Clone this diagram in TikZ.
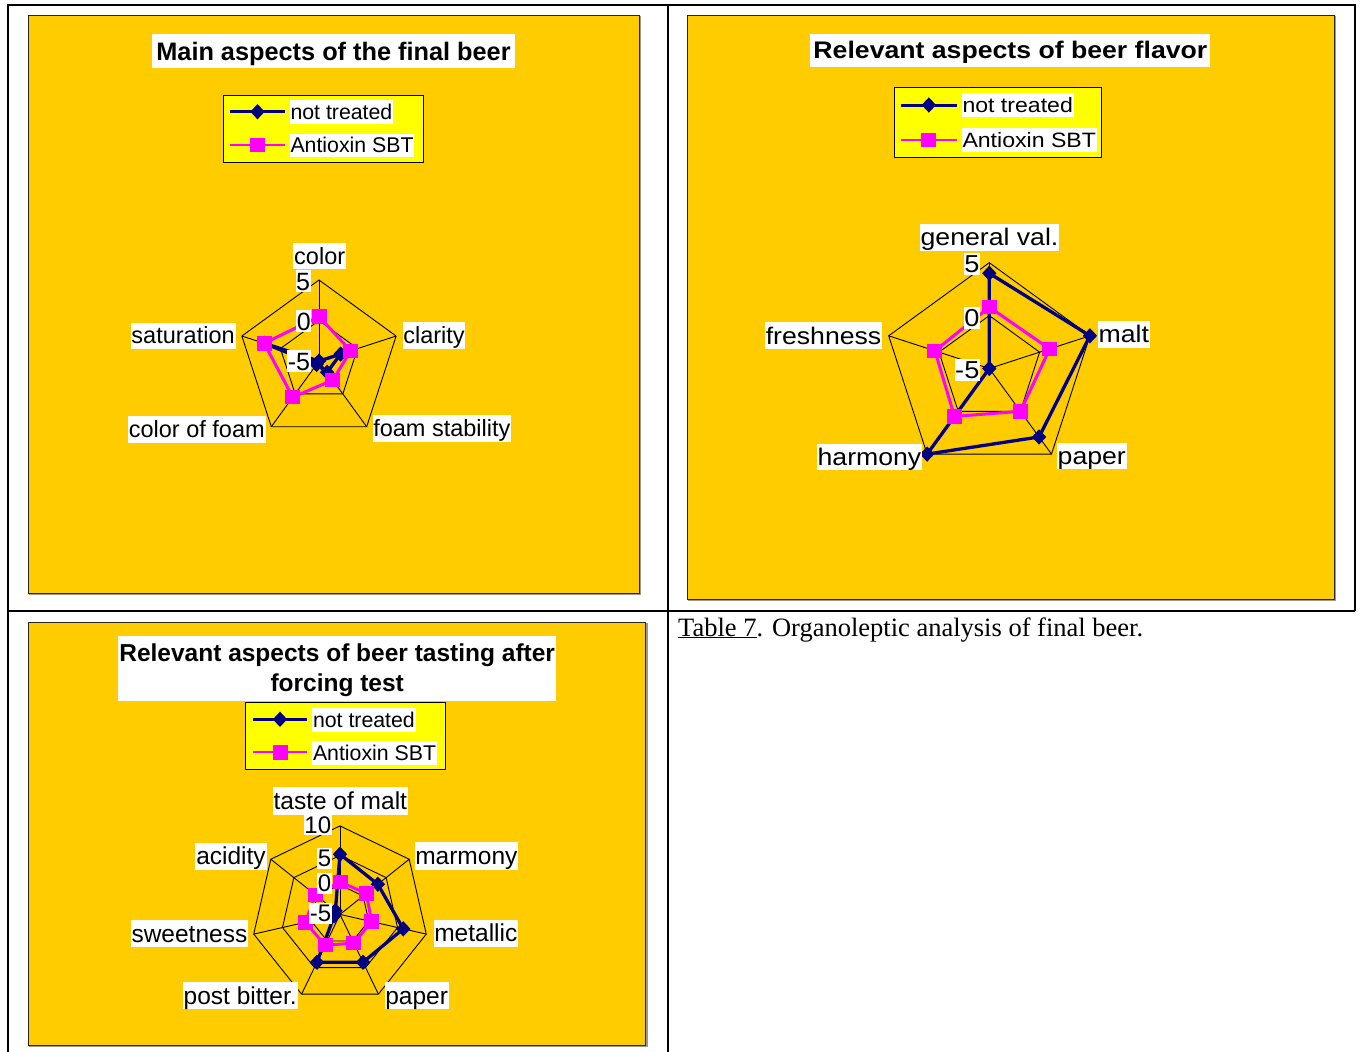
\documentclass[tikz,border=0pt]{standalone}
\usepackage{fontspec}
\usepackage{graphicx}
\setmainfont{Liberation Sans}
\newfontfamily\capfont{Liberation Serif}
\usetikzlibrary{calc,shapes.geometric}
\definecolor{chartbg}{HTML}{FFCC00}
\definecolor{legbg}{HTML}{FFFF00}
\definecolor{navyc}{HTML}{000080}
\definecolor{pinkc}{HTML}{FF00FF}
\newcommand{\myhs}[1]{\scalebox{1.11}[1]{#1}}
\tikzset{
 tableline/.style={line width=2pt,black},
 chartbox/.style={fill=chartbg,draw=black!85,line width=1pt},
 shadowbox/.style={draw=black!40,line width=1.2pt},
 legbox/.style={fill=legbg,draw=black,line width=0.9pt},
 gridline/.style={black,line width=0.9pt},
 ntline/.style={navyc,line width=3.3pt,line join=round},
 axline/.style={pinkc,line width=3pt,line join=round},
 ntleg/.style={navyc,line width=3pt},
 axleg/.style={pinkc,line width=2.2pt},
 dmark/.style={shape=diamond,fill=navyc,inner sep=0pt,minimum width=14.5pt,minimum height=15.5pt},
 smark/.style={shape=rectangle,fill=pinkc,inner sep=0pt,minimum width=15pt,minimum height=14.5pt},
 wbox/.style={fill=white,inner ysep=0pt,inner xsep=0.8pt},
 lab1/.style={wbox,font=\fontsize{23.5}{23.5}\selectfont,text height=21.3pt,text depth=5pt},
 lab2/.style={wbox,font=\fontsize{24}{24}\selectfont,text height=21.7pt,text depth=5.1pt},
 lab3/.style={wbox,font=\fontsize{24.5}{24.5}\selectfont,text height=22.2pt,text depth=5.2pt},
 tick1/.style={fill=white,inner xsep=0.4pt,inner ysep=2pt,font=\fontsize{25}{25}\selectfont,text height=18pt,text depth=0pt},
 tick2/.style={fill=white,inner xsep=0.4pt,inner ysep=2pt,font=\fontsize{24.5}{24.5}\selectfont,text height=17.7pt,text depth=0pt},
 tick3/.style={fill=white,inner xsep=0.4pt,inner ysep=1.7pt,font=\fontsize{24}{24}\selectfont,text height=17.3pt,text depth=0pt},
 leg1/.style={wbox,font=\fontsize{21.3}{21.3}\selectfont,text height=19.3pt,text depth=4.5pt},
 leg2/.style={wbox,font=\fontsize{20.8}{20.8}\selectfont,text height=18.8pt,text depth=4.4pt},
 leg3/.style={wbox,font=\fontsize{21.3}{21.3}\selectfont,text height=19.3pt,text depth=4.5pt},
}
\begin{document}
\begin{tikzpicture}[x=1pt,y=-1pt]
\useasboundingbox (0,0) rectangle (1361,1052);

% ---------------- table rules ----------------
\draw[tableline] (8,1053) -- (8,5) -- (1355,5) -- (1355,611);
\draw[tableline] (8,611) -- (1355,611);
\draw[tableline] (668,5) -- (668,1053);

% ---------------- chart boxes ----------------
\draw[shadowbox] (29.5,17) rectangle (640.2,594.5);
\draw[chartbox] (28.3,15.7) rectangle (639,593.3);
\draw[shadowbox] (688.5,16.7) rectangle (1335.5,600.5);
\draw[chartbox] (687.3,15.5) rectangle (1334.3,599.3);
\draw[shadowbox] (29.5,623.2) rectangle (646.9,1046.2);
\draw[chartbox] (28.3,622) rectangle (645.7,1045);

% ================= CHART 1 =================
\coordinate (c1) at (319,361.1);
\foreach \k in {0,...,4}{
  \coordinate (g1o\k) at ($(c1)+(-90+72*\k:81.1)$);
  \coordinate (g1i\k) at ($(c1)+(-90+72*\k:40.55)$);
}
\draw[gridline] (g1o0)--(g1o1)--(g1o2)--(g1o3)--(g1o4)--cycle;
\draw[gridline] (g1i0)--(g1i1)--(g1i2)--(g1i3)--(g1i4)--cycle;
\foreach \k in {0,...,4} \draw[gridline] (c1)--(g1o\k);
\foreach \k/\v in {0/-5,1/-2.2,2/-3.3,3/-4.5,4/2.1}
  \coordinate (d1n\k) at ($(c1)+(-90+72*\k:{(\v+5)*8.11})$);
\foreach \k/\v in {0/0.5,1/-0.9,2/-2.1,3/0.5,4/2.1}
  \coordinate (d1p\k) at ($(c1)+(-90+72*\k:{(\v+5)*8.11})$);
\draw[ntline] (d1n0)--(d1n1)--(d1n2)--(d1n3)--(d1n4)--cycle;
\foreach \k in {0,...,4} \node[dmark] (m1n\k) at (d1n\k) {};
\draw[axline] (d1p0)--(d1p1)--(d1p2)--(d1p3)--(d1p4)--cycle;
\foreach \k in {0,...,4} \node[smark] (m1p\k) at (d1p\k) {};
\node[tick1,anchor=east] (k1a) at (310.7,281) {5};
\node[tick1,anchor=east] (k1b) at (311.3,321) {0};
\node[tick1,anchor=east] (k1c) at (310.7,361) {-5};
\node[lab1] (a1a) at (319.7,256.3) {color};
\node[lab1,anchor=west] (a1b) at (402.3,335.5) {clarity};
\node[lab1,anchor=west] (a1c) at (372.3,428.5) {foam stability};
\node[lab1,anchor=east] (a1d) at (265.7,429.5) {color of foam};
\node[lab1,anchor=east] (a1e) at (235.7,335.8) {saturation};
\node[fill=white,anchor=north,inner xsep=4pt,inner ysep=3pt,font=\bfseries\fontsize{25.3}{25.3}\selectfont,text height=22.8pt,text depth=5.3pt] (t1) at (333.5,34) {Main aspects of the final beer};
\draw[legbox] (223.5,95.7) rectangle (423,162);
\coordinate (l1a) at (230,111.7); \coordinate (l1b) at (285,111.7);
\coordinate (l1c) at (230,145); \coordinate (l1d) at (285,145);
\draw[ntleg] (l1a) -- (l1b);
\node[dmark] (lm1a) at ($(l1a)!0.5!(l1b)$) {};
\draw[axleg] (l1c) -- (l1d);
\node[smark] (lm1b) at ($(l1c)!0.5!(l1d)$) {};
\node[leg1,anchor=west] (lt1a) at (289.5,112) {not treated};
\node[leg1,anchor=west] (lt1b) at (289.5,145.5) {Antioxin SBT};

% ================= CHART 2 =================
\coordinate (c2) at (989.3,368.5);
\foreach \k in {0,...,4}{
  \coordinate (g2o\k) at ($(c2)+(-90+72*\k:105.8)$);
  \coordinate (g2i\k) at ($(c2)+(-90+72*\k:52.9)$);
}
\draw[gridline] (g2o0)--(g2o1)--(g2o2)--(g2o3)--(g2o4)--cycle;
\draw[gridline] (g2i0)--(g2i1)--(g2i2)--(g2i3)--(g2i4)--cycle;
\foreach \k in {0,...,4} \draw[gridline] (c2)--(g2o\k);
\foreach \k/\v in {0/4,1/5,2/3,3/5,4/-5}
  \coordinate (d2n\k) at ($(c2)+(-90+72*\k:{(\v+5)*10.58})$);
\foreach \k/\v in {0/0.8,1/1,2/0,3/0.6,4/0.4}
  \coordinate (d2p\k) at ($(c2)+(-90+72*\k:{(\v+5)*10.58})$);
\draw[ntline] (d2n0)--(d2n1)--(d2n2)--(d2n3)--(d2n4)--cycle;
\foreach \k in {0,...,4} \node[dmark] (m2n\k) at (d2n\k) {};
\draw[axline] (d2p0)--(d2p1)--(d2p2)--(d2p3)--(d2p4)--cycle;
\foreach \k in {0,...,4} \node[smark] (m2p\k) at (d2p\k) {};
\node[tick2,anchor=east] (k2a) at (980,264) {\myhs{5}};
\node[tick2,anchor=east] (k2b) at (980,318) {\myhs{0}};
\node[tick2,anchor=east] (k2c) at (980,370) {\myhs{-5}};
\node[lab2] (a2a) at (989.5,237.5) {\myhs{general val.}};
\node[lab2,anchor=west] (a2b) at (1097.7,334.5) {\myhs{malt}};
\node[lab2,anchor=west] (a2c) at (1056.7,456) {\myhs{paper}};
\node[lab2,anchor=east] (a2d) at (922.3,457) {\myhs{harmony}};
\node[lab2,anchor=east] (a2e) at (882.3,335.8) {\myhs{freshness}};
\node[fill=white,anchor=north,inner xsep=3pt,inner ysep=3.5pt,font=\bfseries\fontsize{24}{24}\selectfont,text height=21.7pt,text depth=5.1pt] (t2) at (1010.4,33.3) {\myhs{Relevant aspects of beer flavor}};
\draw[legbox] (894.3,87.3) rectangle (1101.7,157.3);
\coordinate (l2a) at (901,105); \coordinate (l2b) at (956.7,105);
\coordinate (l2c) at (901,140); \coordinate (l2d) at (956.7,140);
\draw[ntleg] (l2a) -- (l2b);
\node[dmark] (lm2a) at ($(l2a)!0.5!(l2b)$) {};
\draw[axleg] (l2c) -- (l2d);
\node[smark] (lm2b) at ($(l2c)!0.5!(l2d)$) {};
\node[leg2,anchor=west] (lt2a) at (961.5,105) {\myhs{not treated}};
\node[leg2,anchor=west] (lt2b) at (961.5,140) {\myhs{Antioxin SBT}};

% ================= CHART 3 =================
\coordinate (c3) at (340,914.4);
\foreach \k in {0,...,6}{
  \coordinate (g3o\k) at ($(c3)+(-90+51.42857*\k:88.5)$);
  \coordinate (g3m\k) at ($(c3)+(-90+51.42857*\k:59)$);
  \coordinate (g3i\k) at ($(c3)+(-90+51.42857*\k:29.5)$);
}
\draw[gridline] (g3o0)--(g3o1)--(g3o2)--(g3o3)--(g3o4)--(g3o5)--(g3o6)--cycle;
\draw[gridline] (g3m0)--(g3m1)--(g3m2)--(g3m3)--(g3m4)--(g3m5)--(g3m6)--cycle;
\draw[gridline] (g3i0)--(g3i1)--(g3i2)--(g3i3)--(g3i4)--(g3i5)--(g3i6)--cycle;
\foreach \k in {0,...,6} \draw[gridline] (c3)--(g3o\k);
\foreach \k/\v in {0/5.2,1/3.2,2/6,3/4,4/4,5/-4,6/-4}
  \coordinate (d3n\k) at ($(c3)+(-90+51.42857*\k:{(\v+5)*5.9})$);
\foreach \k/\v in {0/0.5,1/0.7,2/0.5,3/0.4,4/0.8,5/1,6/0.3}
  \coordinate (d3p\k) at ($(c3)+(-90+51.42857*\k:{(\v+5)*5.9})$);
\draw[ntline] (d3n0)--(d3n1)--(d3n2)--(d3n3)--(d3n4)--(d3n5)--(d3n6)--cycle;
\foreach \k in {0,...,6} \node[dmark] (m3n\k) at (d3n\k) {};
\draw[axline] (d3p0)--(d3p1)--(d3p2)--(d3p3)--(d3p4)--(d3p5)--(d3p6)--cycle;
\foreach \k in {0,...,6} \node[smark] (m3p\k) at (d3p\k) {};
\node[tick3,anchor=east] (k3a) at (331.7,824.7) {10};
\node[tick3,anchor=east] (k3b) at (331.7,858.3) {5};
\node[tick3,anchor=east] (k3c) at (331.7,883.3) {0};
\node[tick3,anchor=east] (k3d) at (331.7,913.3) {-5};
\node[lab3] (a3a) at (340.3,800.8) {taste of malt};
\node[lab3,anchor=west] (a3b) at (414.3,855.8) {marmony};
\node[lab3,anchor=west] (a3c) at (433.3,933.3) {metallic};
\node[lab3,anchor=west] (a3d) at (384.3,995.5) {paper};
\node[lab3,anchor=east] (a3e) at (297.7,995.5) {post bitter.};
\node[lab3,anchor=east] (a3f) at (248.3,933.7) {sweetness};
\node[lab3,anchor=east] (a3g) at (266.7,856.3) {acidity};
\node[fill=white,align=center,inner xsep=1pt,inner ysep=0pt,anchor=north,font=\bfseries\fontsize{24.5}{29.3}\selectfont] (t3) at (337.2,636) {\rule{0pt}{25.7pt}Relevant aspects of beer tasting after\\forcing test\rule[-9.7pt]{0pt}{9.7pt}};
\draw[legbox] (245.7,702.3) rectangle (445,769);
\coordinate (l3a) at (252.7,719.3); \coordinate (l3b) at (307.3,719.3);
\coordinate (l3c) at (252.7,752.3); \coordinate (l3d) at (307.3,752.3);
\draw[ntleg] (l3a) -- (l3b);
\node[dmark] (lm3a) at ($(l3a)!0.5!(l3b)$) {};
\draw[axleg] (l3c) -- (l3d);
\node[smark] (lm3b) at ($(l3c)!0.5!(l3d)$) {};
\node[leg3,anchor=west] (lt3a) at (312,719.7) {not treated};
\node[leg3,anchor=west] (lt3b) at (312,752.7) {Antioxin SBT};

% ---------------- caption ----------------
\node[anchor=base west,inner sep=0pt,font=\capfont\fontsize{26.5}{30}\selectfont] (cap) at (678,636) {\underline{Table 7}. Organoleptic analysis of final beer.};
\end{tikzpicture}
\end{document}
